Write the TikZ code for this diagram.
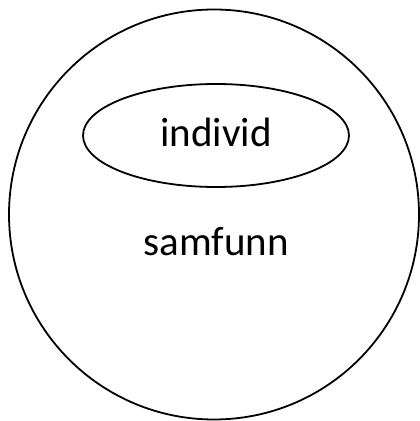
\documentclass[tikz,border=0pt]{standalone}
\usepackage{fontspec}
\setmainfont{Carlito}
\usetikzlibrary{shapes.geometric}
\tikzset{
  outline/.style={draw=black, line width=1.8pt, inner sep=0pt},
  lbl/.style={font=\fontsize{41}{45}\selectfont, inner sep=0pt, anchor=base}
}
\begin{document}
\begin{tikzpicture}[x=1pt,y=1pt]
\useasboundingbox (0,0) rectangle (420,421);
\node[outline, circle, minimum size=410pt] (samfunnc) at (214,206.5) {};
\node[outline, ellipse, minimum width=266pt, minimum height=103pt] (individe) at (216,285.5) {};
\node[lbl] (individt) at (216,274) {individ};
\node[lbl] (samfunnt) at (216,165) {samfunn};
\end{tikzpicture}
\end{document}
